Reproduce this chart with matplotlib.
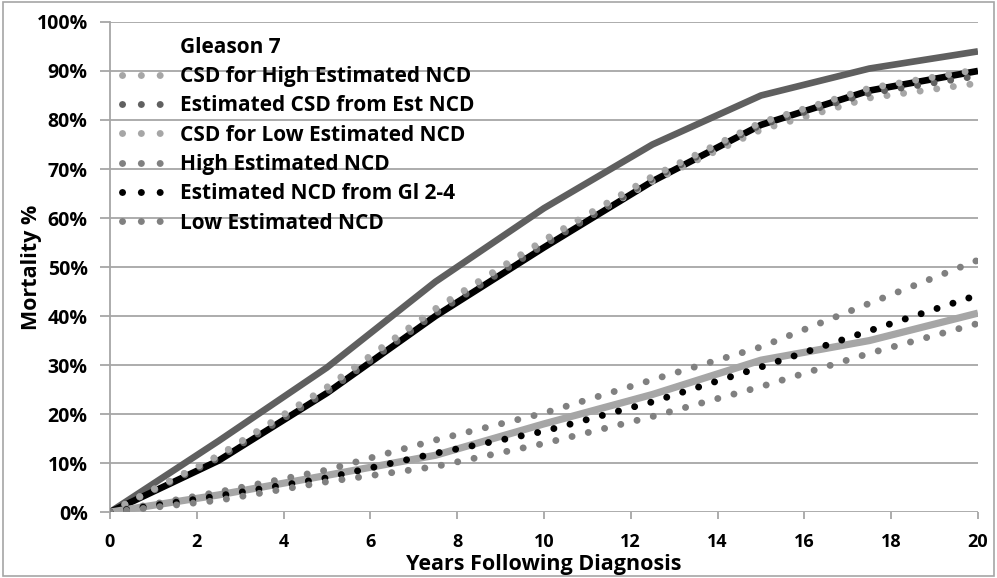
import matplotlib
matplotlib.use("Agg")
import matplotlib.pyplot as plt
from matplotlib.lines import Line2D
from matplotlib.patches import Rectangle
from matplotlib.ticker import FuncFormatter, MultipleLocator

plt.rcParams['font.family'] = ['Open Sans', 'DejaVu Sans']
plt.rcParams['font.weight'] = 'bold'

years = [0, 2.5, 5, 7.5, 10, 12.5, 15, 17.5, 20]

# Solid (unlisted) series
csd_observed = [0, 14.5, 29.5, 47, 62, 75, 85, 90.5, 94]
csd_black = [0, 10.5, 24.3, 40, 54, 67.5, 79, 86, 90]
ncd_observed = [0, 3.5, 7.5, 11.6, 18, 24, 31, 35, 40.6]

# Dotted (legend) series
csd_high_ncd = [0, 11.5, 25, 41, 55, 67.5, 78, 84.5, 87.5]
csd_est = [0, 11, 24.5, 40.5, 54.5, 68, 79, 85.5, 89]
csd_low_ncd = [0, 11.5, 25.5, 41.5, 55.5, 68.5, 79.5, 86.5, 90.3]
ncd_high = [0, 4.1, 8.6, 14.7, 20.2, 27, 33.7, 42.6, 51.4]
ncd_gl24 = [0, 3.3, 7.0, 12, 16.5, 22.5, 29.6, 37, 44.3]
ncd_low = [0, 2.4, 6.2, 9.3, 14.0, 19.5, 25.6, 32.4, 38.5]

legend_title = "Gleason 7"
labels = ["CSD for High Estimated NCD", "Estimated CSD from Est NCD",
          "CSD for Low Estimated NCD", "High Estimated NCD",
          "Estimated NCD from Gl 2-4", "Low Estimated NCD"]
dotted_series = [csd_high_ncd, csd_est, csd_low_ncd, ncd_high, ncd_gl24, ncd_low]
dot_colors = ["#a6a6a6", "#606060", "#a6a6a6", "#808080", "#000000", "#808080"]

fig = plt.figure(figsize=(9.97, 5.78), dpi=100)
ax = fig.add_axes([0.1103, 0.114, 0.8706, 0.848])

dotstyle = (0, (0.01, 2.4))

ax.plot(years, csd_observed, color="#5f5f5f", lw=4.8, solid_capstyle='butt', zorder=2)
ax.plot(years, csd_black, color="#000000", lw=4.8, solid_capstyle='butt', zorder=2)
ax.plot(years, ncd_observed, color="#a6a6a6", lw=5.2, solid_capstyle='butt', zorder=2)

handles = [Line2D([], [], color='none', lw=0)]
for vals, col, lab in zip(dotted_series, dot_colors, labels):
    ax.plot(years, vals, color=col, lw=5, linestyle=dotstyle,
            dash_capstyle='round', zorder=3, label=lab)
    handles.append(Line2D([], [], color=col, lw=5, linestyle=(0, (0.01, 2.7)),
                          dash_capstyle='round'))

ax.set_xlim(0, 20)
ax.set_ylim(0, 100)
ax.xaxis.set_major_locator(MultipleLocator(2))
ax.yaxis.set_major_locator(MultipleLocator(10))
ax.yaxis.set_major_formatter(FuncFormatter(lambda v, p: f"{int(round(v))}%"))
ax.grid(axis='y', color="#a6a6a6", lw=1.3, zorder=0)
ax.set_axisbelow(True)
for s in ['top', 'right', 'bottom']:
    ax.spines[s].set_visible(False)
ax.spines['left'].set_color("#a6a6a6")
ax.spines['left'].set_linewidth(1.3)
ax.tick_params(axis='y', colors="#a6a6a6", length=7, width=1.3, labelcolor='black',
               labelsize=14, pad=9)
ax.tick_params(axis='x', colors="#a6a6a6", length=5, width=1.3, labelcolor='black',
               labelsize=13, pad=10)
for t in ax.get_xticklabels() + ax.get_yticklabels():
    t.set_fontweight('bold')

ax.set_ylabel("Mortality %", fontsize=15.5, fontweight='bold')
ax.yaxis.set_label_coords(-0.078, 0.5)
ax.set_xlabel("Years Following Diagnosis", fontsize=15.5, fontweight='bold')
ax.xaxis.set_label_coords(0.5, -0.085)

leg = ax.legend(handles, [legend_title] + labels, loc='upper left',
                bbox_to_anchor=(0.004, 0.987), frameon=False, fontsize=15,
                handlelength=1.9, handletextpad=0.9, labelspacing=0.40,
                borderaxespad=0.0)
for t in leg.get_texts():
    t.set_fontweight('bold')

fig.patches.append(Rectangle((0.003, 0.004), 0.994, 0.992, transform=fig.transFigure,
                             fill=False, edgecolor="#a6a6a6", lw=1.2))

fig.savefig("out.png", dpi=100)
